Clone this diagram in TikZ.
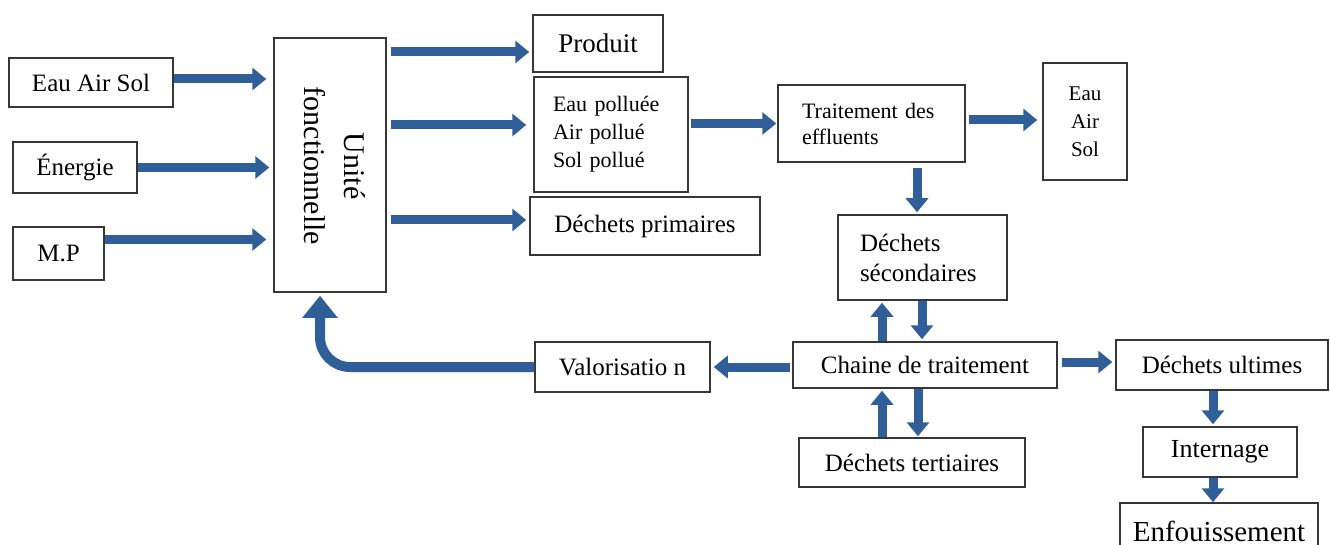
\documentclass[tikz,border=0pt]{standalone}
\usepackage{fontspec}
\setmainfont{Liberation Serif}
\usetikzlibrary{arrows.meta,calc}
\definecolor{flowblue}{RGB}{47,94,153}
\definecolor{framegray}{RGB}{55,55,55}
\newcommand{\txtsize}[2]{\fontsize{#1}{#2}\selectfont}
\begin{document}
\begin{tikzpicture}[x=1pt,y=-1pt,
  box/.style={draw=framegray, line width=1.5pt, fill=white, inner sep=0pt, font=\txtsize{25}{30}},
  flow/.style={draw=flowblue, line width=9pt, -{Triangle[length=14pt,width=22pt]}},
  bigflow/.style={draw=flowblue, line width=10pt, rounded corners=30pt, -{Triangle[length=22pt,width=34pt]}}]
\useasboundingbox (0,0) rectangle (1330,545);
\clip (0,0) rectangle (1330,545);

% inputs
\node[box, minimum width=164pt, minimum height=49pt] (EAS1) at (91,82.5) {Eau Air Sol};
\node[box, minimum width=124pt, minimum height=51pt] (NRJ) at (75,167.5) {Énergie};
\node[box, minimum width=91pt, minimum height=53pt] (MP) at (58.5,253.5) {M.P};

% functional unit
\node[box, minimum width=112pt, minimum height=254pt] (U) at (330,165) {};
\node[rotate=-90, align=center, font=\txtsize{30}{40}] (Utxt) at (335,166) {Unité\\fonctionnelle};

% outputs
\node[box, minimum width=130pt, minimum height=57pt, font=\txtsize{27}{30}] (Prod) at (598,43.5) {Produit};
\node[box, minimum width=154pt, minimum height=115pt, text width=116pt, align=left, font=\txtsize{22}{28}] (Pol) at (611,134.5) {Eau polluée\\Air pollué\\Sol pollué};
\node[box, minimum width=230pt, minimum height=58pt] (DP) at (645,226) {Déchets primaires};
\node[box, minimum width=187pt, minimum height=77pt, text width=139pt, align=left, font=\txtsize{22}{26}] (Trt) at (871.5,123.5) {Traitement des\\effluents};
\node[box, minimum width=84pt, minimum height=117pt, align=center, font=\txtsize{21}{28}] (EAS2) at (1085,121.5) {Eau\\Air\\Sol};
\node[box, minimum width=169pt, minimum height=85pt, text width=125pt, align=left] (DS) at (922.5,257.5) {Déchets\\sécondaires};

% treatment chain
\node[box, minimum width=264pt, minimum height=46pt] (CT) at (925,365) {Chaine de traitement};
\node[box, minimum width=175pt, minimum height=50pt] (Val) at (622.5,367) {Valorisatio n};
\node[box, minimum width=226pt, minimum height=49pt] (DT) at (912,462.5) {Déchets tertiaires};
\node[box, minimum width=212pt, minimum height=50pt] (DU) at (1222,365) {Déchets ultimes};
\node[box, minimum width=154pt, minimum height=50pt, font=\txtsize{26}{30}] (Int) at (1220,452) {Internage};
\node[box, minimum width=198pt, minimum height=56pt, font=\txtsize{29}{30}] (Enf) at (1219,531) {Enfouissement};

% flows into the functional unit
\draw[flow] ($(EAS1.east)+(0,-3.5)$) -- ($(U.west |- EAS1.east)+(-7,-3.5)$);
\draw[flow] (NRJ.east) -- ($(U.west |- NRJ.east)+(-4,0)$);
\draw[flow] ($(MP.east)+(0,-14)$) -- ($(U.west |- MP.east)+(-7,-14)$);

% flows out of the functional unit
\draw[flow] ($(U.east |- Prod.west)+(4,8.5)$) -- ($(Prod.west)+(-3,8.5)$);
\draw[flow] ($(U.east |- Pol.west)+(4,-9.5)$) -- ($(Pol.west)+(-7,-9.5)$);
\draw[flow] ($(U.east |- DP.west)+(4,-6)$) -- ($(DP.west)+(-3,-6)$);
\draw[flow] ($(Pol.east |- Trt.west)+(2,0)$) -- ($(Trt.west)+(-1,0)$);
\draw[flow] ($(Trt.east |- EAS2.west)+(3,-1.5)$) -- ($(EAS2.west)+(-5,-1.5)$);
\draw[flow] ($(Trt.south -| DS.north)+(-5.5,5)$) -- ($(DS.north)+(-5.5,-2)$);

% exchanges with the treatment chain
\draw[flow] ($(CT.north -| DS.south)+(-40.5,0)$) -- ($(DS.south)+(-40.5,2)$);
\draw[flow] ($(DS.south)+(-0.5,0)$) -- ($(CT.north -| DS.south)+(-0.5,-2)$);
\draw[flow] ($(DT.north)+(-30,0)$) -- ($(CT.south -| DT.north)+(-30,2)$);
\draw[flow] ($(CT.south -| DT.north)+(6,0)$) -- ($(DT.north)+(6,-1)$);
\draw[flow] ($(CT.east)+(4,-3)$) -- ($(DU.west)+(-3,-3)$);
\draw[flow] ($(DU.south)+(-9,0)$) -- ($(Int.north -| DU.south)+(-9,-2)$);
\draw[flow] ($(Int.south -| DU.south)+(-9,0)$) -- ($(Enf.north -| DU.south)+(-9,0)$);
\draw[flow] ($(CT.west)+(-2,2)$) -- ($(Val.east)+(3,0)$);

% recovery loop back to the functional unit
\draw[bigflow] (Val.west) -| ($(U.south)+(-10,3)$);
\end{tikzpicture}
\end{document}
